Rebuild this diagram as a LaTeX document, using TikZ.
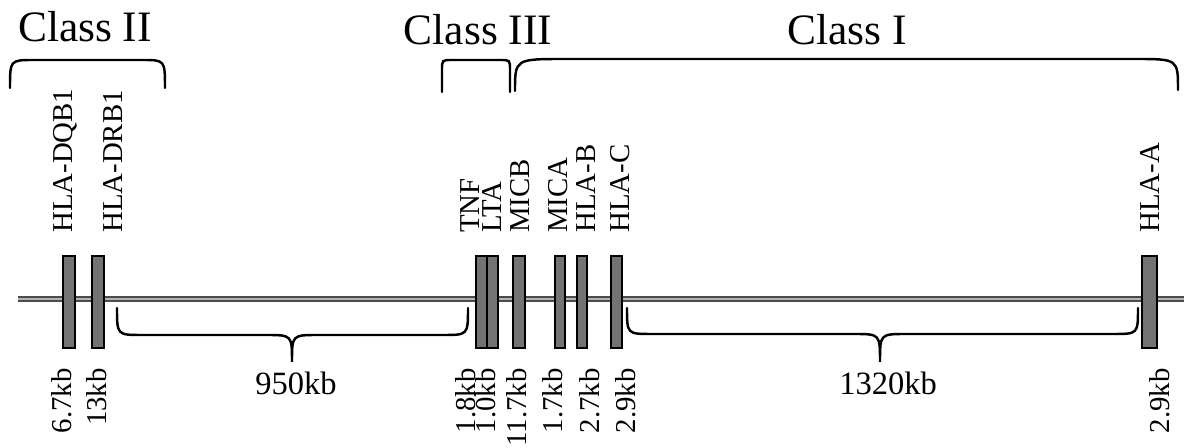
\documentclass[tikz,border=0pt]{standalone}
\usepackage{fontspec}
\setmainfont{Liberation Serif}
\begin{document}
\begin{tikzpicture}[x=0.02cm,y=-0.02cm]
  \tikzset{
    gene/.style={draw=black,line width=0.6pt,fill=black!55},
    genelbl/.style={rotate=90,anchor=west,inner sep=0pt,font=\fontsize{16.4}{16}\selectfont},
    kblbl/.style={rotate=90,anchor=east,inner sep=0pt,font=\fontsize{16.4}{16}\selectfont},
    classlbl/.style={anchor=base,inner sep=0pt,font=\fontsize{24.7}{25}\selectfont},
    spanlbl/.style={anchor=base,inner sep=0pt,font=\fontsize{18.5}{19}\selectfont},
    brace/.style={line width=1.4pt,line cap=round}}
  \useasboundingbox (0,0) rectangle (1184,448);
  % chromosome
  \draw[line width=0.9pt,draw=black!70,double=black!30,double distance=1.3pt]
    (18,299) coordinate (chrL) -- (1184,299) coordinate (chrR);
  % genes: box left/right, name, label x, size, size x
  \foreach \xa/\xb/\gname/\gx/\kb/\kx [count=\i] in {
      63/75/HLA-DQB1/65/6.7kb/62, 92/104/HLA-DRB1/113/13kb/97,
      476/487/TNF/470/1.8kb/466, 487/498/LTA/492/1.0kb/486,
      513/525/MICB/520/11.7kb/517, 555/565/MICA/558/1.7kb/553,
      577/587/HLA-B/586/2.7kb/590, 611/622/HLA-C/620/2.9kb/626,
      1142/1157/HLA-A/1150/2.9kb/1160}
  {
    \draw[gene] (\xa,256) rectangle (\xb,348);
    \node[genelbl] (gene\i) at (\gx,233) {\gname};
    \node[kblbl] (size\i) at (\kx,368) {\kb};
  }
  % classes
  \node[classlbl] (cII) at (85,42) {Class II};
  \node[classlbl] (cIII) at (478,45) {Class III};
  \node[classlbl] (cI) at (847,45) {Class I};
  \draw[brace] (10,88) .. controls (10,60) .. (34,60) -- (142,60) .. controls (165,60) .. (165,88);
  \draw[brace] (442,92) -- (442,70) .. controls (442,60) .. (452,60) -- (500,60)
    .. controls (510,60) .. (510,70) -- (510,92);
  \draw[brace] (515,91) .. controls (515,59) .. (565,59) -- (1135,59) .. controls (1178,59) .. (1178,90);
  % distances
  \draw[brace] (117,308) .. controls (117,335) .. (142,335) -- (266,335) .. controls (292,335) .. (292,362)
    .. controls (292,335) .. (318,335) -- (443,335) .. controls (468,335) .. (468,308);
  \draw[brace] (627,308) .. controls (627,334) .. (652,334) -- (854,334) .. controls (880,334) .. (880,362)
    .. controls (880,334) .. (906,334) -- (1113,334) .. controls (1138,334) .. (1138,308);
  \node[spanlbl] (d950) at (296,395) {950kb};
  \node[spanlbl] (d1320) at (888,395) {1320kb};
\end{tikzpicture}
\end{document}
